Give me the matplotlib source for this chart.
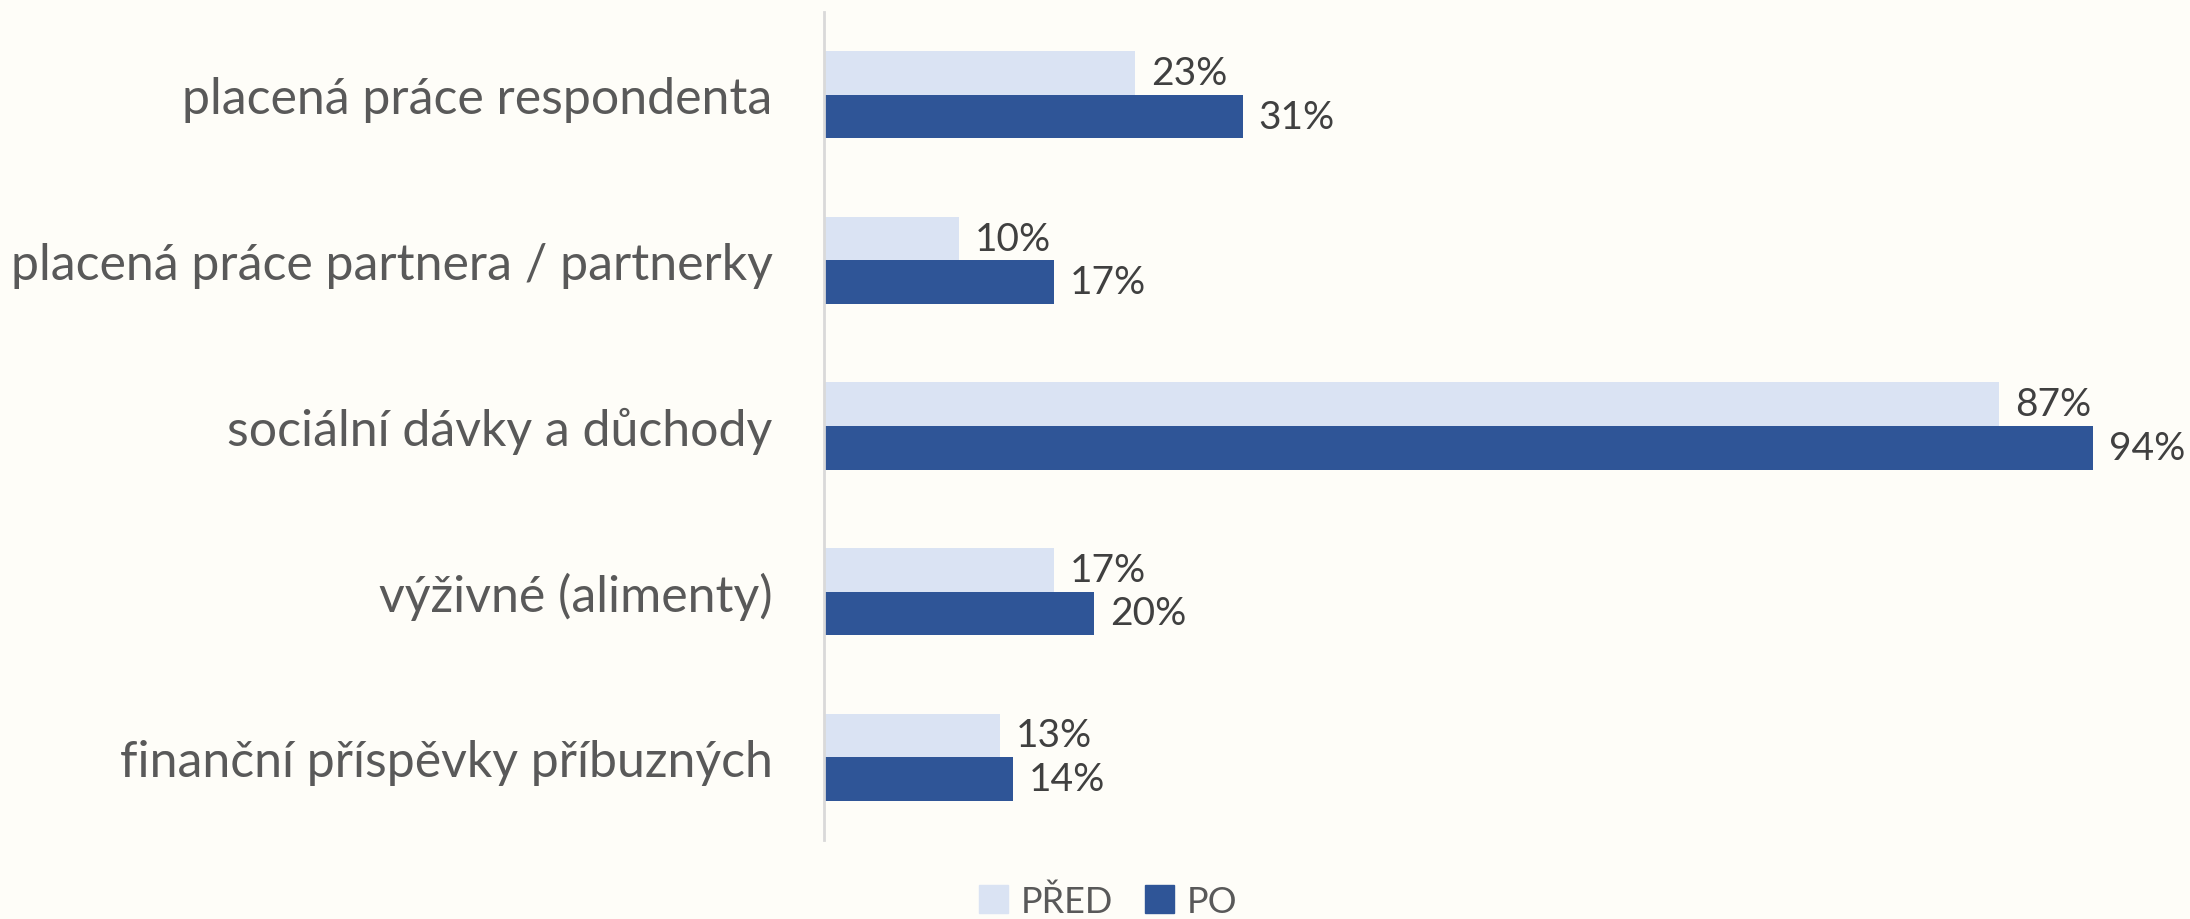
import matplotlib
matplotlib.use('Agg')
import matplotlib.pyplot as plt
from matplotlib.patches import Patch
import numpy as np

categories = ['placená práce respondenta',
              'placená práce partnera / partnerky',
              'sociální dávky a důchody',
              'výživné (alimenty)',
              'finanční příspěvky příbuzných']
pred = [23, 10, 87, 17, 13]
po = [31, 17, 94, 20, 14]
series_names = ['PŘED', 'PO']

bg = '#FEFDF8'
c_pred = '#DAE3F3'
c_po = '#2F5597'

plt.rcParams['font.family'] = ['Lato', 'DejaVu Sans']

W, H = 2190, 920
fig = plt.figure(figsize=(W / 100, H / 100), dpi=100, facecolor=bg)
ax = fig.add_axes([824 / W, 1 - 841 / H, (2174 - 824) / W, (841 - 13) / H])
ax.set_facecolor(bg)

y = np.arange(len(categories))
h = 0.263
ax.barh(y - h / 2, pred, height=h, color=c_pred)
ax.barh(y + h / 2, po, height=h, color=c_po)

for yi, v in zip(y, pred):
    ax.text(v + 1.2, yi - h / 2, f'{v}%', va='center', ha='left',
            fontsize=28, color='#404040')
for yi, v in zip(y, po):
    ax.text(v + 1.2, yi + h / 2, f'{v}%', va='center', ha='left',
            fontsize=28, color='#404040')

ax.set_xlim(0, 100)
ax.set_ylim(len(categories) - 0.5, -0.5)
ax.set_yticks(y)
ax.set_yticklabels(categories, fontsize=36, color='#595959')
ax.tick_params(axis='y', length=0, pad=37)
ax.set_xticks([])
for s in ['top', 'right', 'bottom']:
    ax.spines[s].set_visible(False)
ax.spines['left'].set_color('#D9D9D9')
ax.spines['left'].set_linewidth(2)

handles = [Patch(color=c_pred), Patch(color=c_po)]
fig.legend(handles, series_names, loc='center', bbox_to_anchor=(1108 / W, 1 - 902 / H),
           ncol=2, frameon=False, fontsize=26, labelcolor='#595959',
           handlelength=0.8, handleheight=0.8, handletextpad=0.35, columnspacing=0.9)

fig.savefig('out.png', dpi=100, facecolor=bg)
